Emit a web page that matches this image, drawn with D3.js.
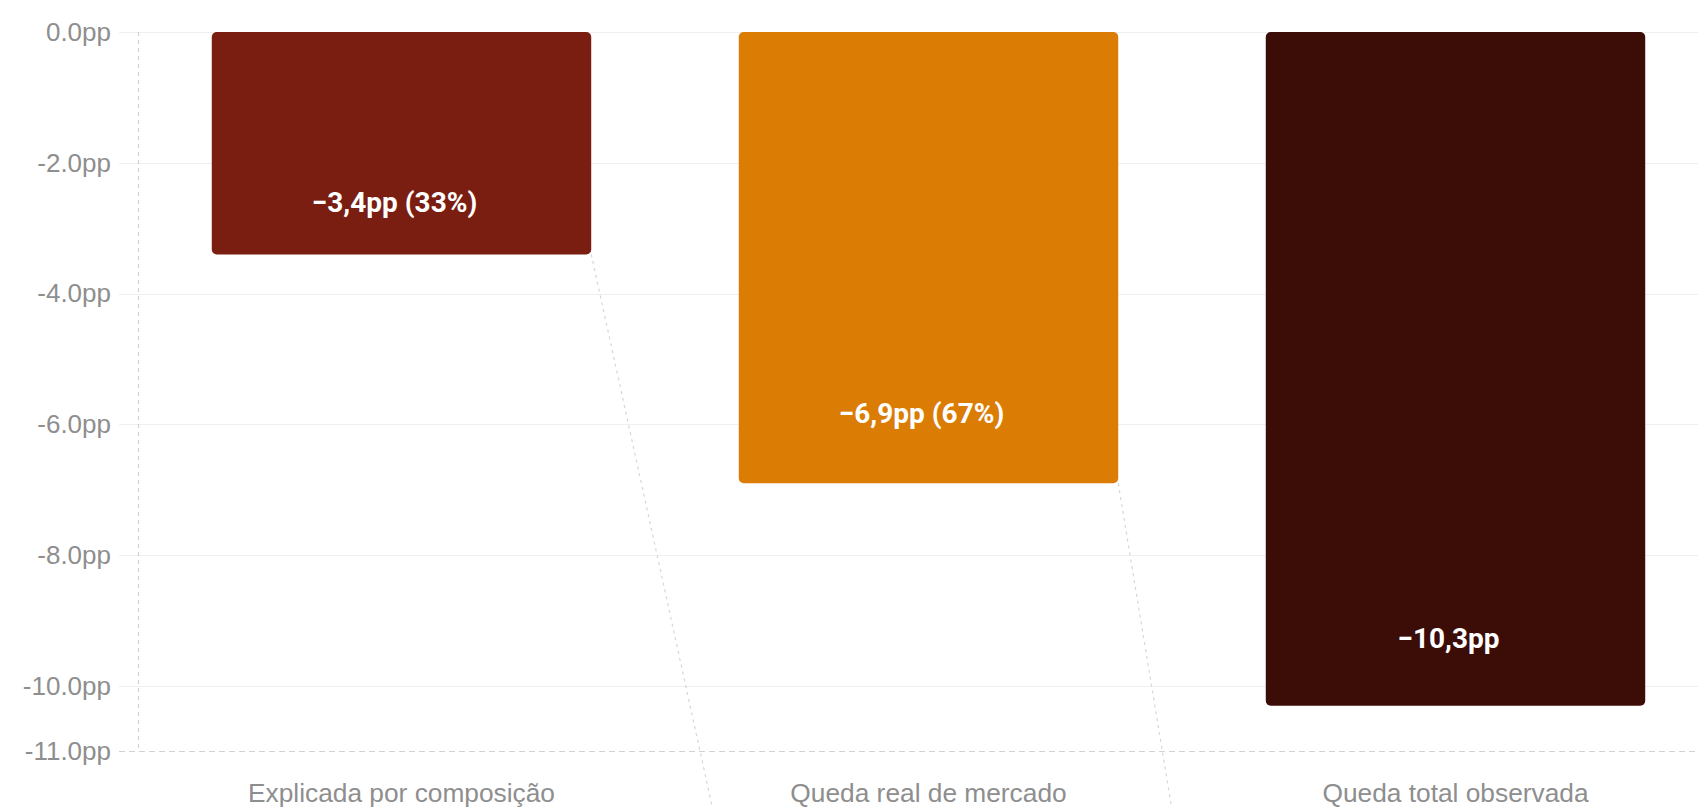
<!DOCTYPE html>
<html lang="pt">
<head>
<meta charset="utf-8">
<script src="https://cdn.jsdelivr.net/npm/d3@7"></script>
<style>
  html, body { margin: 0; padding: 0; background: #ffffff; }
  svg { display: block; }
</style>
</head>
<body>
<svg id="chart" width="1698" height="807"></svg>
<script>
// Decomposição da queda (pontos percentuais)
const categories = ["Explicada por composição", "Queda real de mercado", "Queda total observada"];
const values = [-3.4, -6.9, -10.3];
const shares = [33, 67, null];
const colors = ["#7a1e12", "#db7c05", "#3c0c07"];
const labelLevels = [-2.6, -5.83, -9.28];
const connectorEnds = [-13.7, -20.6];
const tickValues = [0, -2, -4, -6, -8, -10, -11];

const W = 1698, H = 807;
const plot = { left: 138, right: 1719, top: 32, bottom: 751.5 };

const svg = d3.select("#chart");

const y = d3.scaleLinear().domain([0, -11]).range([plot.top, plot.bottom]);
const x = d3.scaleBand().domain(categories)
  .range([plot.left, plot.right])
  .paddingInner(0.28).paddingOuter(0.14);

const tickFmt = v => v.toFixed(1).replace("\u2212", "-") + "pp";
const labelFmt = (v, s) => "\u2212" + Math.abs(v).toFixed(1).replace(".", ",") + "pp" + (s != null ? ` (${s}%)` : "");

// horizontal grid lines
svg.append("g").selectAll("line")
  .data(tickValues.filter(t => t !== -11))
  .join("line")
  .attr("x1", 119).attr("x2", W)
  .attr("y1", d => Math.round(y(d)) + 0.5).attr("y2", d => Math.round(y(d)) + 0.5)
  .attr("stroke", "#efefef").attr("stroke-width", 1);

// y axis labels
const yAxis = svg.append("g")
  .attr("transform", `translate(${plot.left},0)`)
  .call(d3.axisLeft(y).tickValues(tickValues).tickFormat(tickFmt).tickSize(0).tickPadding(27));
yAxis.select(".domain").remove();
yAxis.selectAll("text")
  .attr("fill", "#8e8e8e")
  .style("font-family", "'Liberation Sans', Arial, Helvetica, sans-serif")
  .style("font-size", "26px");

// dashed axis lines
svg.append("line")
  .attr("x1", plot.left + 0.5).attr("x2", plot.left + 0.5)
  .attr("y1", plot.top).attr("y2", y(-11))
  .attr("stroke", "#d2d2d2").attr("stroke-width", 1.2).attr("stroke-dasharray", "4,4");
svg.append("line")
  .attr("x1", 119).attr("x2", W)
  .attr("y1", y(-11)).attr("y2", y(-11))
  .attr("stroke", "#d2d2d2").attr("stroke-width", 1.2).attr("stroke-dasharray", "6,4");

// connector lines between consecutive bars
svg.append("g").selectAll("line")
  .data(connectorEnds)
  .join("line")
  .attr("x1", (d, i) => x(categories[i]) + x.bandwidth())
  .attr("y1", (d, i) => y(values[i]))
  .attr("x2", (d, i) => x(categories[i + 1]))
  .attr("y2", d => y(d))
  .attr("stroke", "#d6d6d6").attr("stroke-width", 1.2).attr("stroke-dasharray", "3,4");

// bars
svg.append("g").selectAll("rect")
  .data(values)
  .join("rect")
  .attr("x", (d, i) => x(categories[i]))
  .attr("y", d => y(0))
  .attr("width", x.bandwidth())
  .attr("height", d => y(d) - y(0))
  .attr("rx", 5).attr("ry", 5)
  .attr("fill", (d, i) => colors[i]);

// value labels
svg.append("g").selectAll("text")
  .data(values)
  .join("text")
  .attr("x", (d, i) => x(categories[i]) + x.bandwidth() / 2)
  .attr("y", (d, i) => y(labelLevels[i]))
  .attr("dx", -7)
  .attr("text-anchor", "middle")
  .attr("dominant-baseline", "central")
  .attr("fill", "#ffffff")
  .style("font-family", "Roboto, 'Noto Sans', sans-serif")
  .style("font-weight", 700)
  .style("font-size", "28px")
  .text((d, i) => labelFmt(d, shares[i]));

// category labels
const xAxis = svg.append("g")
  .attr("transform", `translate(0,${plot.bottom})`)
  .call(d3.axisBottom(x).tickSize(0).tickPadding(0));
xAxis.select(".domain").remove();
xAxis.selectAll("text")
  .attr("y", 0).attr("dy", 0)
  .attr("transform", "translate(0,50)")
  .attr("fill", "#8e8e8e")
  .style("font-family", "'Liberation Sans', Arial, Helvetica, sans-serif")
  .style("font-size", "26.3px");
</script>
</body>
</html>
